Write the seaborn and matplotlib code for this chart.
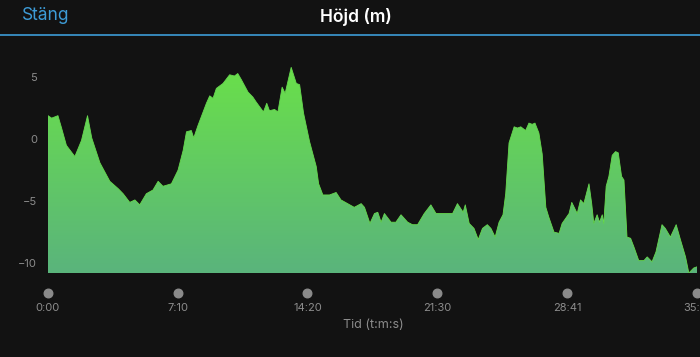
import numpy as np
import pandas as pd
import matplotlib
matplotlib.use("Agg")
import matplotlib.pyplot as plt
import matplotlib.transforms as mtransforms
from matplotlib.colors import LinearSegmentedColormap
import seaborn as sns

# ─────────────────────────────────────────────────────────────────────
# DATA
# ─────────────────────────────────────────────────────────────────────

time_s = [0, 12, 33, 45, 61, 89, 111, 131, 145, 172, 205, 233, 249, 271, 288,
          304, 326, 348, 365, 381, 409, 431, 448, 459, 475, 483, 497, 525, 536,
          547, 558, 580, 602, 618, 629, 641, 663, 679, 690, 714, 725, 734, 751,
          762, 776, 786, 806, 823, 834, 847, 867, 889, 897, 911, 933, 955, 971,
          993, 1015, 1038, 1049, 1067, 1082, 1093, 1104, 1115, 1137, 1153, 1170,
          1192, 1208, 1225, 1247, 1269, 1286, 1307, 1341, 1357, 1368, 1376, 1383,
          1396, 1412, 1426, 1440, 1456, 1468, 1482, 1495, 1508, 1517, 1528, 1545,
          1556, 1567, 1583, 1594, 1605, 1614, 1627, 1638, 1650, 1660, 1677, 1694,
          1704, 1727, 1736, 1754, 1765, 1776, 1793, 1802, 1809, 1820, 1828, 1837,
          1842, 1850, 1859, 1870, 1881, 1890, 1901, 1909, 1919, 1931, 1942, 1958,
          1975, 1986, 2002, 2015, 2035, 2046, 2063, 2082, 2096, 2113, 2124, 2140,
          2151]

elevation_m = [1.9, 1.7, 1.9, 0.9, -0.5, -1.4, -0.1, 1.9, 0.1, -1.9, -3.4, -4.0,
               -4.4, -5.1, -4.9, -5.3, -4.4, -4.1, -3.4, -3.8, -3.6, -2.5, -0.9,
               0.6, 0.7, 0.1, 1.1, 2.9, 3.5, 3.3, 4.1, 4.5, 5.2, 5.1, 5.3, 4.8,
               3.8, 3.4, 3.0, 2.2, 2.9, 2.3, 2.4, 2.2, 4.2, 3.7, 5.8, 4.5, 4.4,
               2.1, -0.2, -2.2, -3.6, -4.5, -4.5, -4.3, -4.9, -5.2, -5.5, -5.2,
               -5.5, -6.8, -6.0, -5.9, -6.7, -6.0, -6.7, -6.7, -6.1, -6.7, -6.9,
               -6.9, -6.0, -5.3, -6.0, -6.0, -6.0, -5.2, -5.6, -5.9, -5.3, -6.8,
               -7.2, -8.1, -7.2, -6.9, -7.2, -7.9, -6.7, -6.1, -4.4, -0.3, 1.0,
               0.9, 1.0, 0.7, 1.3, 1.2, 1.3, 0.5, -1.2, -5.5, -6.3, -7.5, -7.6,
               -6.8, -6.0, -5.1, -6.0, -4.9, -5.2, -3.6, -5.2, -6.8, -6.1, -6.7,
               -6.1, -6.8, -3.8, -3.0, -1.3, -1.0, -1.1, -3.0, -3.3, -7.9, -8.0,
               -8.7, -9.8, -9.8, -9.5, -9.9, -9.1, -6.9, -7.2, -7.9, -6.9, -8.1,
               -9.5, -10.8, -10.4, -10.3]

x_ticks = [0, 430, 860, 1290, 1721, 2151]
x_tick_labels = ["0:00", "7:10", "14:20", "21:30", "28:41", "35:51"]
y_ticks = [5, 0, -5, -10]
y_tick_labels = ["5", "0", "\u22125", "\u221210"]

# ─────────────────────────────────────────────────────────────────────
# STYLE
# ─────────────────────────────────────────────────────────────────────

BG = "#121212"
TICK_GREY = "#8c8c8c"
BLUE = "#3d9bd6"
Y_MIN, Y_MAX = -10.8, 7.2

sns.set_theme(style="dark", rc={
    "figure.facecolor": BG,
    "axes.facecolor": BG,
    "savefig.facecolor": BG,
    "axes.edgecolor": BG,
    "axes.grid": False,
})
plt.rcParams["font.family"] = ["Inter", "DejaVu Sans"]

df = pd.DataFrame({"t": time_s, "elev": elevation_m})

fig = plt.figure(figsize=(7.0, 3.57), dpi=100)
ax = fig.add_axes([48 / 700, (357 - 273) / 357, 649 / 700, 223 / 357])

# gradient fill clipped to the area under the profile
green_cmap = LinearSegmentedColormap.from_list("elev", ["#5ab47c", "#6be346"])
grad = np.linspace(0, 1, 256).reshape(-1, 1)
img = ax.imshow(grad, extent=[0, 2151, Y_MIN, Y_MAX], origin="lower",
                aspect="auto", cmap=green_cmap, zorder=1)
poly = ax.fill_between(df["t"], df["elev"], Y_MIN, facecolor="none",
                       edgecolor="none")
img.set_clip_path(poly.get_paths()[0], transform=ax.transData)

sns.lineplot(data=df, x="t", y="elev", ax=ax, color="#66d94e", linewidth=0.6,
             zorder=2)

ax.set_xlim(0, 2151)
ax.set_ylim(Y_MIN, Y_MAX)
ax.set_xlabel("")
ax.set_ylabel("")
ax.set_xticks([])
ax.set_yticks(y_ticks)
ax.set_yticklabels(y_tick_labels, color=TICK_GREY, fontsize=8)
ax.tick_params(axis="y", length=0, pad=8)
for s in ax.spines.values():
    s.set_visible(False)

# x ticks: grey dots with labels below the plot
trans = mtransforms.blended_transform_factory(ax.transData, ax.transAxes)
ax.scatter(x_ticks, [-20 / 223] * len(x_ticks), s=38, color="#8a8a8a",
           transform=trans, clip_on=False, zorder=3)
for xv, lab in zip(x_ticks, x_tick_labels):
    ax.text(xv, -35 / 223, lab, transform=trans, ha="center", va="center",
            color=TICK_GREY, fontsize=8, clip_on=False)
fig.text(373 / 700, 1 - 325 / 357, "Tid (t:m:s)", ha="center", va="center",
         color=TICK_GREY, fontsize=9)

# header bar
fig.text(356 / 700, 1 - 17 / 357, "Höjd (m)", ha="center", va="center",
         color="white", fontsize=12.5, fontweight="semibold")
fig.text(22 / 700, 1 - 16 / 357, "Stäng", ha="left", va="center",
         color=BLUE, fontsize=12.5)
fig.add_artist(plt.Line2D([0, 1], [1 - 34.5 / 357] * 2, color=BLUE,
                          linewidth=1.2, transform=fig.transFigure))

fig.savefig("out.png", dpi=100)
